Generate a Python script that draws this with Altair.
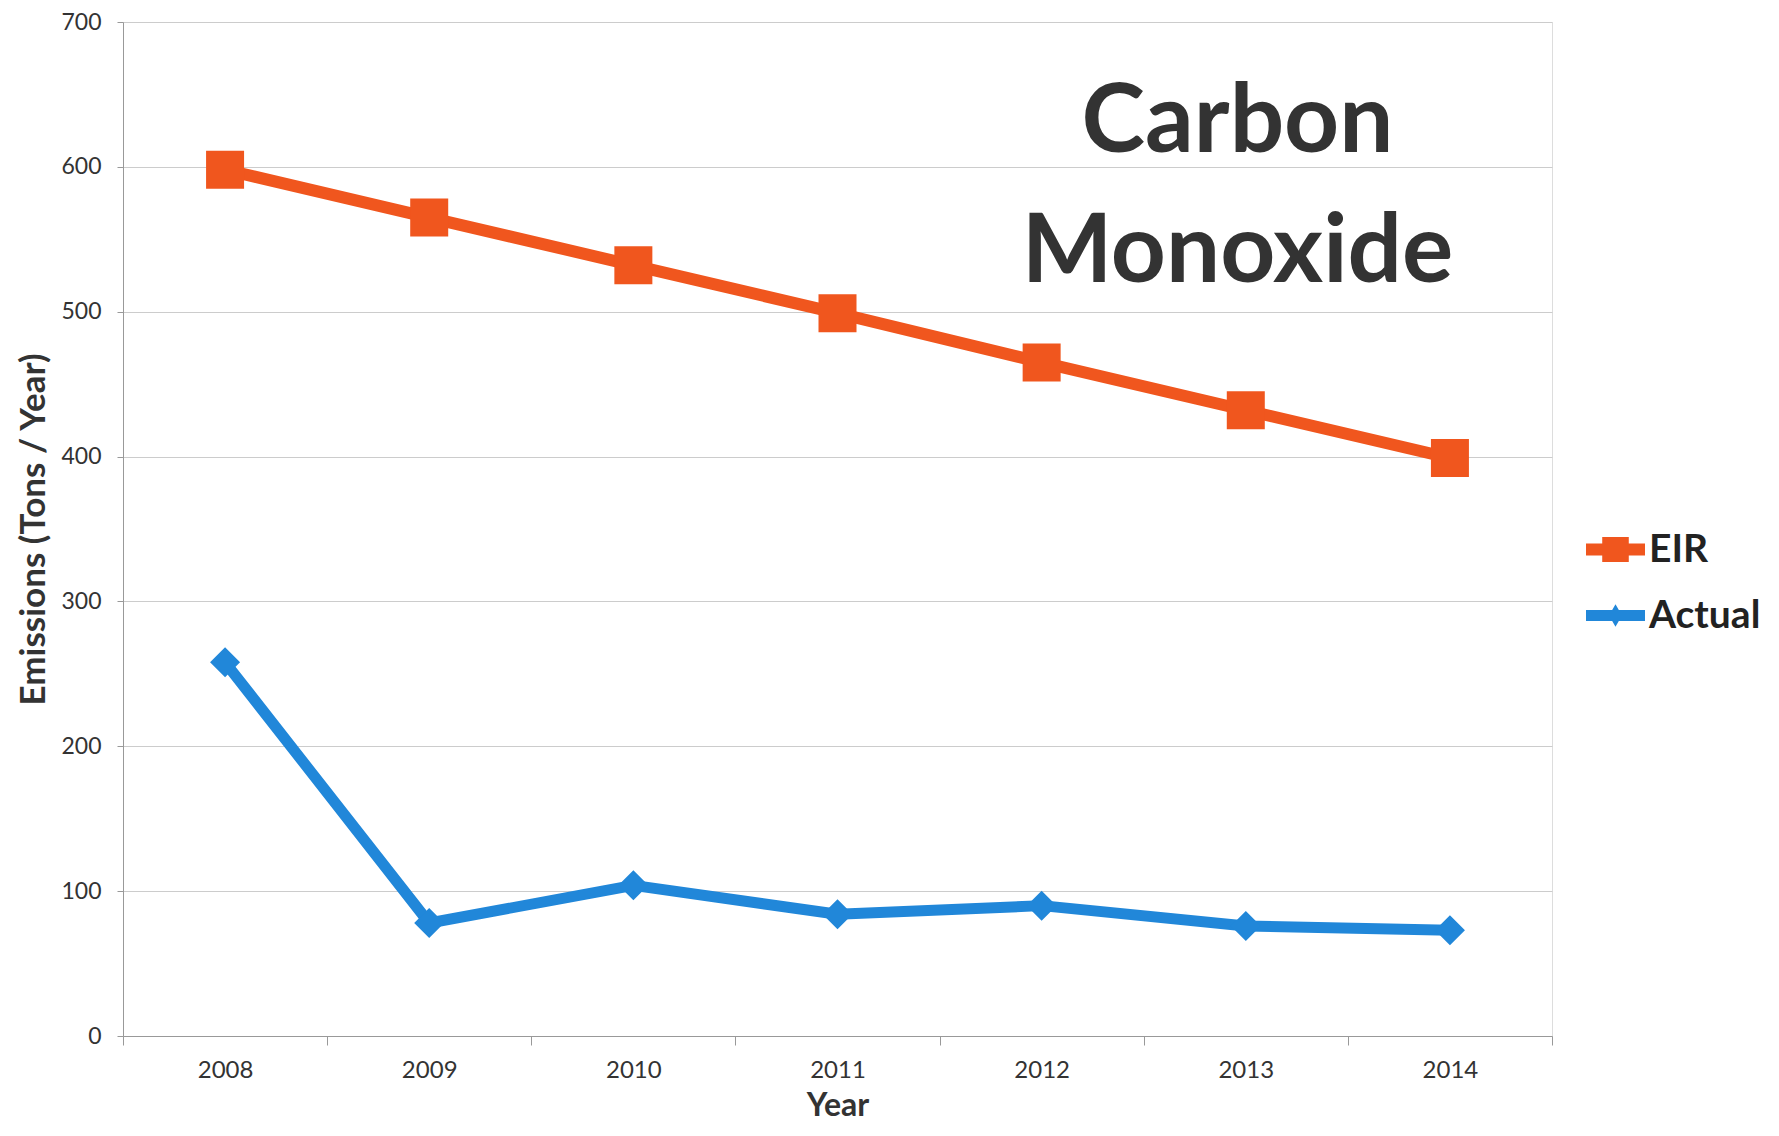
import altair as alt
import pandas as pd

years = ["2008", "2009", "2010", "2011", "2012", "2013", "2014"]
eir = [598, 565, 532, 499, 465, 432, 399]
actual = [258, 78, 104, 84, 90, 76, 73]
series_names = ["EIR", "Actual"]
series_colors = ["#F0561E", "#2187D9"]
y_ticks = [0, 100, 200, 300, 400, 500, 600, 700]
title_lines = ["Carbon", "Monoxide"]

rows = []
for y, v in zip(years, eir):
    rows.append({"Year": y, "Series": "EIR", "Value": v})
for y, v in zip(years, actual):
    rows.append({"Year": y, "Series": "Actual", "Value": v})
df = pd.DataFrame(rows)

FONT = "Lato"

x_enc = alt.X(
    "Year:O",
    bandPosition=0.5,
    sort=years,
    scale=alt.Scale(type="band", paddingInner=0, paddingOuter=0),
    axis=alt.Axis(
        title="Year",
        labelAngle=0,
        tickBand="extent",
        tickSize=9,
        tickColor="#999999",
        domainColor="#999999",
        labelPadding=13,
        labelFontSize=24,
        labelColor="#333333",
        labelFont=FONT,
        titleFont=FONT,
        titleFontSize=32,
        titleFontWeight="bold",
        titleColor="#333333",
        titlePadding=8,
        grid=False,
    ),
)
y_enc = alt.Y(
    "Value:Q",
    scale=alt.Scale(domain=[0, 700], nice=False),
    axis=alt.Axis(
        title="Emissions (Tons / Year)",
        values=y_ticks,
        tickSize=6,
        tickColor="#999999",
        domainColor="#999999",
        labelPadding=16,
        labelFontSize=23,
        labelColor="#333333",
        labelFont=FONT,
        titleFont=FONT,
        titleFontSize=35,
        titleFontWeight="bold",
        titleColor="#333333",
        titlePadding=9,
        grid=True,
        gridColor="#cccccc",
        gridWidth=1,
    ),
)
color_scale = alt.Scale(domain=series_names, range=series_colors)

base = alt.Chart(df)

legend_shapes = [
    "M-1,-0.2L1,-0.2L1,0.2L-1,0.2Z M-0.45,-0.42L0.45,-0.42L0.45,0.42L-0.45,0.42Z",
    "M-1,-0.19L1,-0.19L1,0.19L-1,0.19Z M0,-0.38L0.22,0L0,0.38L-0.22,0Z",
]

legend_props = dict(
    title=None,
    orient="none",
    legendX=1463,
    legendY=498,
    symbolSize=3481,
    symbolStrokeWidth=0,
    symbolOpacity=1,
    labelFontSize=39,
    labelFontWeight="bold",
    labelFont=FONT,
    labelColor="#222222",
    labelOffset=4,
    rowPadding=16,
    padding=0,
)

# invisible layer that only carries the legend (placed first so its legend wins the merge)
legend_layer = base.mark_point(filled=True, opacity=0, size=1).encode(
    x=x_enc,
    y=y_enc,
    color=alt.Color("Series:N", scale=color_scale, legend=alt.Legend(**legend_props)),
    shape=alt.Shape(
        "Series:N",
        scale=alt.Scale(domain=series_names, range=legend_shapes),
        legend=alt.Legend(**legend_props),
    ),
)

lines_eir = base.transform_filter(alt.datum.Series == "EIR").mark_line(
    strokeWidth=12, strokeJoin="round"
).encode(x=x_enc, y=y_enc, color=alt.Color("Series:N", scale=color_scale))

lines_actual = base.transform_filter(alt.datum.Series == "Actual").mark_line(
    strokeWidth=11, strokeJoin="round"
).encode(x=x_enc, y=y_enc, color=alt.Color("Series:N", scale=color_scale))

squares = base.transform_filter(alt.datum.Series == "EIR").mark_point(
    shape="square", filled=True, size=1444, opacity=1
).encode(x=x_enc, y=y_enc, color=alt.Color("Series:N", scale=color_scale))

diamonds = base.transform_filter(alt.datum.Series == "Actual").mark_point(
    shape="diamond", filled=True, size=900, opacity=1
).encode(x=x_enc, y=y_enc, color=alt.Color("Series:N", scale=color_scale))

chart = alt.layer(legend_layer, lines_eir, lines_actual, squares, diamonds).properties(
    width=1429,
    height=1014,
    padding={"left": 115, "top": 14, "right": 219, "bottom": 92},
    autosize=alt.AutoSizeParams(type="none"),
    title=alt.TitleParams(
        text=title_lines,
        fontSize=96,
        font=FONT,
        fontWeight="bold",
        color="#333333",
        lineHeight=130,
        anchor="middle",
        orient="top",
        dx=400,
        dy=391,
        baseline="bottom",
    ),
).configure_view(stroke=None).configure(background="white")

chart.save("out.html", embed_options={"renderer": "svg", "actions": False})
